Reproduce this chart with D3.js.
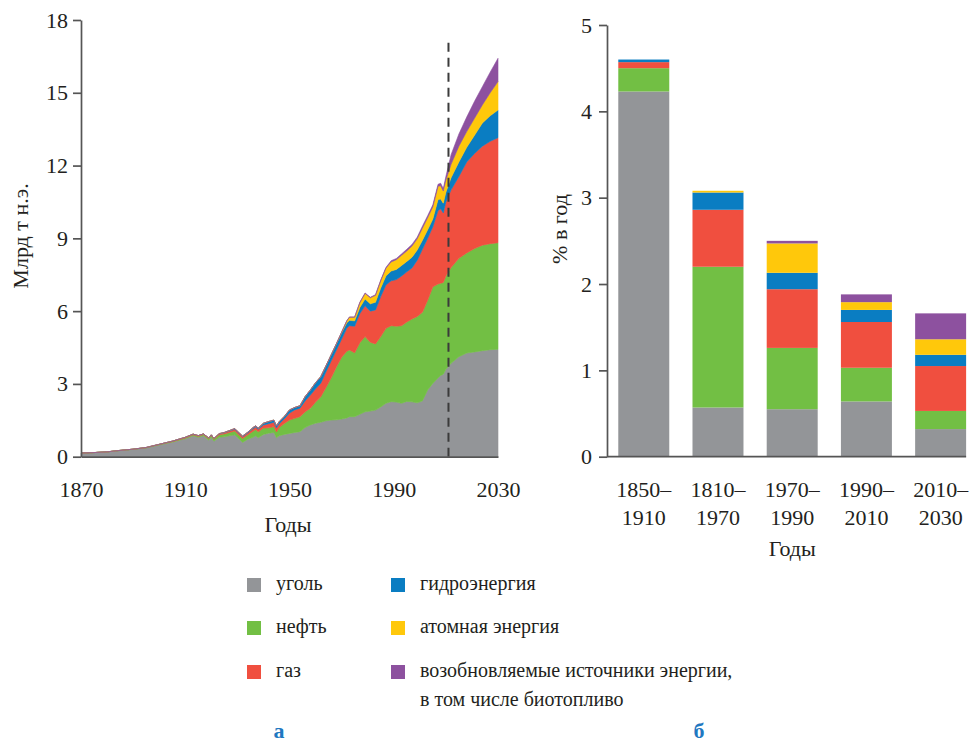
<!DOCTYPE html>
<html>
<head>
<meta charset="utf-8">
<script src="https://cdn.jsdelivr.net/npm/d3@7"></script>
<style>
  body { margin: 0; background: #fff; }
  svg text { font-family: "Liberation Serif", "Times New Roman", serif; fill: #231f20; }
</style>
</head>
<body>
<div id="chart"></div>
<script>
// ---- data: world primary energy, bln t oil eq. ----
const years = [1870,1875,1880,1885,1890,1895,1900,1905,1910,
  1913,1915,1917,1919,1920,1921,1923,1925,1927,1929,
  1930,1932,1934,1936,1937,1938,1940,1942,1944,1945,
  1946,1948,1950,1952,1954,1956,1958,1960,1962,1964,
  1966,1968,1970,1972,1973,1975,1977,1979,1981,1983,
  1985,1987,1989,1991,1993,1995,1997,1999,2001,2003,
  2005,2007,2008,2009,2010,2012,2015,2018,2021,2024,
  2027,2030];

const coal = [.15,.17,.20,.25,.30,.36,.48,.60,.74,
  .86,.80,.86,.68,.80,.64,.80,.82,.86,.90,
  .80,.59,.72,.80,.86,.78,.92,.97,1.00,.78,
  .86,.92,.96,1.00,1.03,1.20,1.31,1.38,1.42,1.48,
  1.51,1.52,1.55,1.60,1.65,1.65,1.75,1.85,1.88,1.92,
  2.05,2.20,2.27,2.25,2.20,2.28,2.26,2.22,2.30,2.75,
  3.02,3.25,3.35,3.40,3.60,3.85,4.12,4.27,4.32,4.37,
  4.41,4.43];

const oil = [0,0,0,.01,.01,.01,.02,.02,.03,
  .04,.04,.05,.06,.07,.08,.10,.12,.14,.16,
  .15,.16,.18,.25,.26,.25,.26,.22,.24,.24,
  .34,.45,.55,.58,.62,.65,.69,.87,1.05,1.37,
  1.74,2.18,2.55,2.75,2.75,2.63,2.95,3.10,2.84,2.73,
  2.90,3.09,3.13,3.13,3.20,3.27,3.42,3.56,3.65,3.70,
  3.98,3.87,3.80,3.78,3.85,3.95,4.06,4.13,4.26,4.35,
  4.37,4.39];

const gas = [0,0,0,0,0,.01,.01,.02,.03,
  .03,.03,.03,.03,.03,.03,.04,.05,.06,.07,
  .07,.07,.08,.10,.10,.10,.13,.17,.18,.17,
  .15,.19,.29,.35,.35,.45,.54,.55,.56,.65,
  .70,.70,.75,.95,1.00,1.10,1.20,1.27,1.28,1.40,
  1.65,1.79,1.85,1.92,2.05,2.07,2.10,2.32,2.60,2.55,
  2.48,3.03,3.07,2.87,3.05,3.20,3.37,3.75,3.92,4.08,
  4.22,4.33];

const hydro = [0,0,0,0,0,0,0,0,0,
  0,0,0,0,0,0,.01,.01,.02,.03,
  .03,.03,.03,.05,.05,.05,.07,.09,.09,.08,
  .09,.10,.13,.10,.10,.18,.21,.25,.27,.25,
  .25,.25,.25,.22,.22,.22,.25,.28,.30,.32,
  .35,.37,.40,.42,.43,.43,.44,.42,.37,.35,
  .32,.45,.40,.40,.40,.50,.60,.60,.75,.95,
  1.05,1.14];

const nuclear = [0,0,0,0,0,0,0,0,0,
  0,0,0,0,0,0,0,0,0,0,
  0,0,0,0,0,0,0,0,0,0,
  0,0,0,0,0,0,0,0,0,0,
  0,.01,.03,.08,.13,.15,.20,.23,.25,.28,
  .30,.32,.38,.40,.42,.43,.46,.46,.50,.50,
  .50,.55,.55,.50,.50,.55,.65,.65,.70,.75,
  .95,1.17];

const renewables = [0,0,0,0,0,0,0,0,0,
  0,0,0,0,0,0,0,0,0,0,
  0,0,0,0,0,0,0,0,0,0,
  0,0,0,0,0,0,0,0,0,0,
  0,0,.01,.01,.01,.01,.02,.02,.02,.03,
  .03,.03,.05,.05,.06,.07,.07,.07,.08,.08,
  .08,.08,.10,.10,.15,.40,.50,.60,.70,.75,
  .85,.96];

const forecastYear = 2011;

// ---- data: growth rate, % per year ----
const periods = ["1850–1910", "1810–1970", "1970–1990", "1990–2010", "2010–2030"];
const growthCoal = [4.23, 0.57, 0.55, 0.64, 0.32];
const growthOil = [0.27, 1.63, 0.71, 0.39, 0.21];
const growthGas = [0.07, 0.66, 0.68, 0.53, 0.52];
const growthHydro = [0.03, 0.20, 0.19, 0.14, 0.13];
const growthNuclear = [0, 0.02, 0.34, 0.09, 0.18];
const growthRenew = [0, 0, 0.03, 0.09, 0.30];

const keys = ["coal", "oil", "gas", "hydro", "nuclear", "renew"];
const labels = ["уголь", "нефть", "газ", "гидроэнергия", "атомная энергия",
  "возобновляемые источники энергии,|в том числе биотопливо"];
const colors = ["#939598", "#72bf44", "#f04f3f", "#0a7dc2", "#ffc80b", "#8d519f"];

const color = d3.scaleOrdinal().domain(keys).range(colors);

const svg = d3.select("#chart").append("svg")
  .attr("width", 974)
  .attr("height", 744);

// ---------- left: stacked area ----------
const x1 = d3.scaleLinear().domain([1870, 2030]).range([81, 498]);
const y1 = d3.scaleLinear().domain([0, 18]).range([456.7, 20]);

const rows = years.map((yr, i) => ({
  year: yr, coal: coal[i], oil: oil[i], gas: gas[i],
  hydro: hydro[i], nuclear: nuclear[i], renew: renewables[i]
}));
const stacked = d3.stack().keys(keys)(rows);

const area = d3.area()
  .x(d => x1(d.data.year))
  .y0(d => y1(d[0]))
  .y1(d => y1(d[1]));

svg.append("g").selectAll("path")
  .data(stacked)
  .enter()
  .append("path")
  .attr("d", area)
  .attr("fill", d => color(d.key))
  .attr("stroke", d => color(d.key))
  .attr("stroke-width", 0.6);

// forecast line
svg.append("line")
  .attr("x1", x1(forecastYear))
  .attr("x2", x1(forecastYear))
  .attr("y1", y1(0))
  .attr("y2", y1(17.1))
  .attr("stroke", "#3b3b3b")
  .attr("stroke-width", 2)
  .attr("stroke-dasharray", "9,6");

const axisColor = "#555";

const yAxis1 = svg.append("g")
  .attr("transform", "translate(81,0)")
  .call(d3.axisLeft(y1).tickValues([0, 3, 6, 9, 12, 15, 18]).tickSize(8).tickSizeOuter(0).tickPadding(5));

const xAxis1 = svg.append("g")
  .attr("transform", `translate(0,${y1(0)})`)
  .call(d3.axisBottom(x1).tickValues([1870, 1910, 1950, 1990, 2030])
    .tickFormat(d3.format("d")).tickSize(0).tickSizeOuter(0).tickPadding(25));

svg.append("text")
  .attr("transform", "translate(28,236) rotate(-90)")
  .attr("text-anchor", "middle")
  .attr("font-size", 22)
  .text("Млрд т н.э.");

svg.append("text")
  .attr("x", 288)
  .attr("y", 532)
  .attr("text-anchor", "middle")
  .attr("font-size", 22)
  .text("Годы");

// ---------- right: stacked bars ----------
const xb = d3.scaleBand().domain(periods).range([607, 977.4]).paddingInner(0.313).paddingOuter(0.152);
const yb = d3.scaleLinear().domain([0, 5]).range([456.7, 25]);

const barRows = periods.map((p, i) => ({
  period: p, coal: growthCoal[i], oil: growthOil[i], gas: growthGas[i],
  hydro: growthHydro[i], nuclear: growthNuclear[i], renew: growthRenew[i]
}));
const barStack = d3.stack().keys(keys)(barRows);

svg.append("g").selectAll("g")
  .data(barStack)
  .enter()
  .append("g")
  .attr("fill", d => color(d.key))
  .selectAll("rect")
  .data(d => d)
  .enter()
  .append("rect")
  .attr("x", d => xb(d.data.period))
  .attr("width", xb.bandwidth())
  .attr("y", d => yb(d[1]))
  .attr("height", d => yb(d[0]) - yb(d[1]));

const yAxis2 = svg.append("g")
  .attr("transform", "translate(607,0)")
  .call(d3.axisLeft(yb).ticks(5).tickFormat(d3.format("d")).tickSize(8).tickSizeOuter(0).tickPadding(7));

const xAxis2 = svg.append("g")
  .attr("transform", `translate(0,${yb(0)})`)
  .call(d3.axisBottom(xb).tickSize(0).tickFormat(""));
xAxis2.select(".domain").remove();
xAxis2.append("line")
  .attr("x1", 607)
  .attr("x2", xb(periods[periods.length - 1]) + xb.bandwidth())
  .attr("stroke", axisColor)
  .attr("stroke-width", 1.7);

xAxis2.selectAll(".tick").each(function (d) {
  const parts = d.split("–");
  const t = d3.select(this).select("text")
    .attr("y", 0).attr("dy", null)
    .attr("font-size", 22);
  t.append("tspan").attr("x", 0).attr("y", 40.3).text(parts[0] + "–");
  t.append("tspan").attr("x", 0).attr("y", 68.3).text(parts[1]);
});

svg.append("text")
  .attr("transform", "translate(567,229) rotate(-90)")
  .attr("text-anchor", "middle")
  .attr("font-size", 22)
  .text("% в год");

svg.append("text")
  .attr("x", xb(periods[2]) + xb.bandwidth() / 2)
  .attr("y", 556)
  .attr("text-anchor", "middle")
  .attr("font-size", 22)
  .text("Годы");

// axis styling
[yAxis1, xAxis1, yAxis2, xAxis2].forEach(g => {
  g.selectAll(".domain, .tick line").attr("stroke", axisColor).attr("stroke-width", 1.7);
  g.selectAll("text").attr("font-size", 22).attr("fill", "#231f20")
    .style("font-family", "'Liberation Serif', 'Times New Roman', serif");
});

// ---------- legend ----------
const legend = svg.append("g").attr("class", "legend");
const legendCols = [247, 391];
const legendRows = [585, 628, 672];

keys.forEach((k, i) => {
  const cx = legendCols[Math.floor(i / 3)];
  const cy = legendRows[i % 3];
  legend.append("rect")
    .attr("x", cx)
    .attr("y", cy - 7)
    .attr("width", 14)
    .attr("height", 14)
    .attr("fill", color(k));
  const lines = labels[i].split("|");
  const t = legend.append("text")
    .attr("font-size", 20);
  lines.forEach((ln, j) => {
    t.append("tspan")
      .attr("x", cx + 29)
      .attr("y", cy + 5 + j * 29)
      .text(ln);
  });
});

svg.append("text")
  .attr("x", 279)
  .attr("y", 738)
  .attr("text-anchor", "middle")
  .attr("font-size", 22)
  .attr("font-weight", "bold")
  .style("fill", "#1f78c1")
  .text("а");

svg.append("text")
  .attr("x", 699)
  .attr("y", 738)
  .attr("text-anchor", "middle")
  .attr("font-size", 22)
  .attr("font-weight", "bold")
  .style("fill", "#1f78c1")
  .text("б");
</script>
</body>
</html>
